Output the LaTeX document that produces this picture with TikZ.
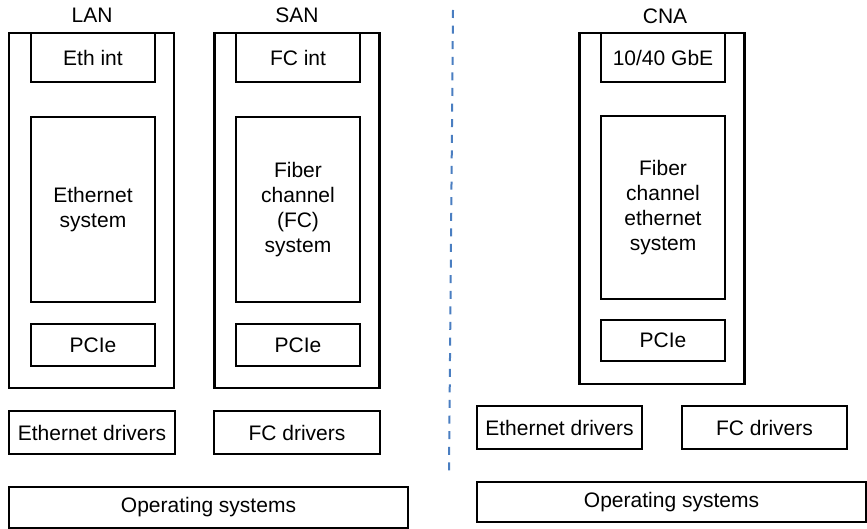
\documentclass[tikz,border=0pt]{standalone}
\usepackage{fontspec}
\setmainfont{Liberation Sans}
\definecolor{sepblue}{HTML}{4A7EC1}

\begin{document}
\begin{tikzpicture}[x=0.5pt,y=-0.5pt,
  every node/.style={inner sep=0pt, font=\fontsize{10.5}{12.6}\selectfont},
  card/.style={draw, line width=1.15pt, minimum width=82.5pt, minimum height=177.5pt},
  part/.style={draw, line width=0.7pt, minimum width=62pt, align=center},
  layer/.style={draw, line width=0.7pt, minimum height=21.5pt}]
\useasboundingbox (0,0) rectangle (867,529);

%\tikzset{level distance=42pt}

% LAN adapter
\node[card] (lan) at (91.5,210.5) {};
\node (lanname) at (92,15) {LAN};
\node[part, minimum height=24.5pt] (ethint) at (93,57.5) {Eth int};
\node[part, minimum height=92.5pt] (ethsys) at (93,209.5) {Ethernet\\system};
\node[part, minimum height=21pt] (lanpcie) at (93,345) {PCIe};

% SAN adapter
\node[card] (san) at (297,210.5) {};
\node (sanname) at (297,15) {SAN};
\node[part, minimum height=24.5pt] (fcint) at (298,57.5) {FC int};
\node[part, minimum height=92.5pt] (fcsys) at (298,209.5) {Fiber\\channel\\(FC)\\system};
\node[part, minimum height=21pt] (sanpcie) at (298,345) {PCIe};

\node[layer, minimum width=83pt] (ethdrv) at (92,432.5) {Ethernet drivers};
\node[layer, minimum width=83pt] (fcdrv) at (297,432.5) {FC drivers};
\node[layer, minimum width=199.5pt, minimum height=20.5pt] (os) at (208.5,507.5) {Operating systems};

% separator
\coordinate (septop) at (453,10);
\coordinate (sepbot) at (449,473);
\draw[sepblue, line width=1pt, dash pattern=on 4pt off 3.8pt] (septop) -- (sepbot);

% converged adapter
\node[card, minimum height=175.5pt] (cna) at (662,208.5) {};
\node (cnaname) at (665,16) {CNA};
\node[part, minimum height=24.5pt] (gbe) at (663,57.5) {10/40 GbE};
\node[part, minimum height=91.5pt] (fcesys) at (663,207.5) {Fiber\\channel\\ethernet\\system};
\node[part, minimum height=20.5pt] (cnapcie) at (663,340.5) {PCIe};

\node[layer, minimum width=82.5pt] (cnaethdrv) at (559.5,427.5) {Ethernet drivers};
\node[layer, minimum width=82.5pt] (cnafcdrv) at (764.5,427.5) {FC drivers};
\node[layer, minimum width=194.5pt, minimum height=20pt] (cnaos) at (671.5,502) {Operating systems};
\end{tikzpicture}
\end{document}
